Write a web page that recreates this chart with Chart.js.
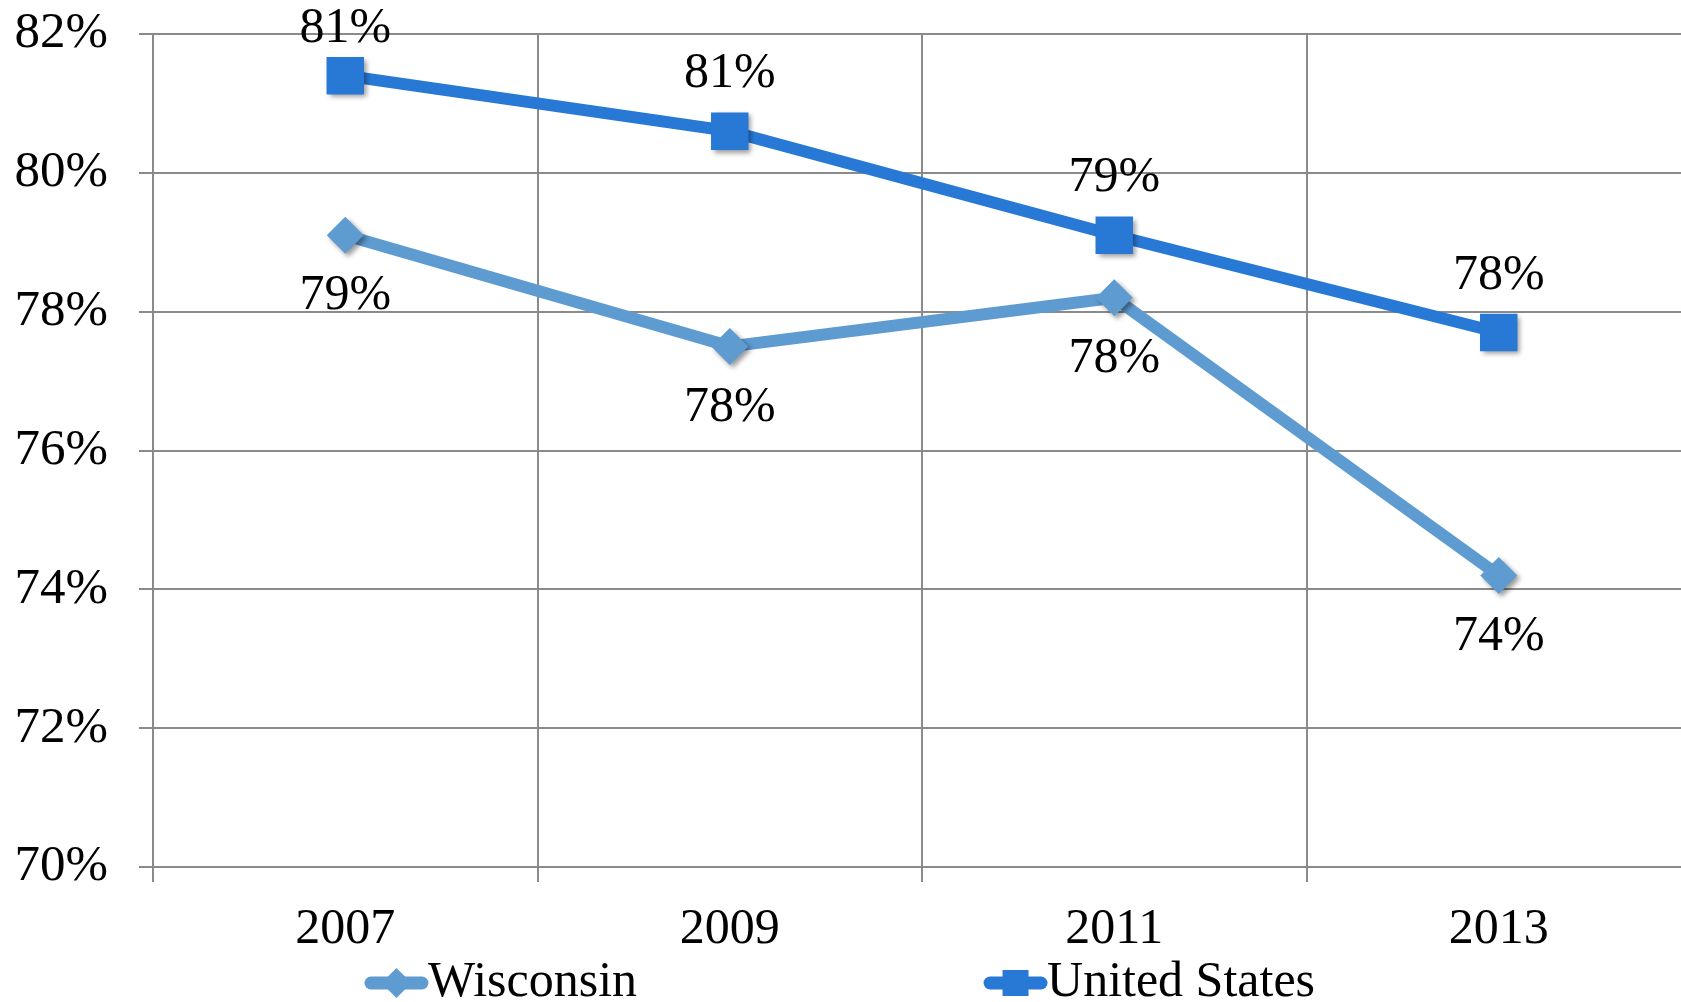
<!DOCTYPE html>
<html>
<head>
<meta charset="utf-8">
<script src="https://cdn.jsdelivr.net/npm/chart.js@4.4.0/dist/chart.umd.min.js"></script>
<style>
  html, body { margin: 0; padding: 0; background: #fff; overflow: hidden; }
  #chart { display: block; }
</style>
</head>
<body>
<canvas id="chart" width="1691" height="1002"></canvas>
<script>
// values (percent)
const years = ['2007', '2009', '2011', '2013'];
const wisconsin = [79.1, 77.5, 78.2, 74.2];
const unitedStates = [81.4, 80.6, 79.1, 77.7];
const seriesNames = ['Wisconsin', 'United States'];

const FONT = '"Liberation Serif", "Times New Roman", serif';
const WI_COLOR = '#5e9bd0';
const US_COLOR = '#2879d5';
const GRID = '#8a8a8a';

// soft drop shadow on the markers only (not on the lines)
const markerShadow = {
    id: 'markerShadow',
    beforeDatasetDraw(chart, args) {
        args.meta.data.forEach(pt => {
            if (pt._shadowed) return;
            const draw = pt.draw.bind(pt);
            pt.draw = (ctx, area) => {
                ctx.save();
                ctx.shadowColor = 'rgba(0, 0, 0, 0.4)';
                ctx.shadowBlur = 5;
                ctx.shadowOffsetX = 3;
                ctx.shadowOffsetY = 3;
                draw(ctx, area);
                ctx.restore();
            };
            pt._shadowed = true;
        });
    }
};

// value labels above (US) / below (WI) each point
const valueLabels = {
    id: 'valueLabels',
    afterDatasetsDraw(chart) {
        const ctx = chart.ctx;
        ctx.save();
        ctx.font = '50px ' + FONT;
        ctx.fillStyle = '#000';
        ctx.textAlign = 'center';
        ctx.textBaseline = 'middle';
        chart.data.datasets.forEach((ds, i) => {
            const meta = chart.getDatasetMeta(i);
            meta.data.forEach((pt, j) => {
                const txt = Math.round(ds.data[j]) + '%';
                let y = ds.labelPos === 'above' ? pt.y - 57 : pt.y + 61;
                y = Math.max(y, chart.chartArea.top - 5);
                ctx.fillText(txt, pt.x, y);
            });
        });
        ctx.restore();
    }
};

// Excel-style legend: short line with the marker, then the name
const bottomLegend = {
    id: 'bottomLegend',
    afterDraw(chart) {
        const ctx = chart.ctx;
        const markW = 63, gap = 347, cy = chart.height - 19, center = 840;
        ctx.save();
        ctx.font = '50px ' + FONT;
        ctx.textBaseline = 'middle';
        ctx.textAlign = 'left';
        const items = chart.data.datasets.map(ds => ({ ds, w: markW + ctx.measureText(ds.label).width }));
        const total = items.reduce((s, it) => s + it.w, 0) + gap * (items.length - 1);
        let x = center - total / 2;
        items.forEach(({ ds, w }) => {
            ctx.strokeStyle = ds.borderColor;
            ctx.fillStyle = ds.borderColor;
            ctx.lineWidth = 13;
            ctx.lineCap = 'round';
            ctx.beginPath();
            ctx.moveTo(x + 6, cy);
            ctx.lineTo(x + markW - 6, cy);
            ctx.stroke();
            const mx = x + markW / 2;
            ctx.beginPath();
            if (ds.pointStyle === 'rect') {
                ctx.rect(mx - 13, cy - 13, 26, 26);
            } else {
                ctx.moveTo(mx, cy - 15);
                ctx.lineTo(mx + 15, cy);
                ctx.lineTo(mx, cy + 15);
                ctx.lineTo(mx - 15, cy);
                ctx.closePath();
            }
            ctx.fill();
            ctx.fillStyle = '#000';
            ctx.fillText(ds.label, x + markW, cy);
            x += w + gap;
        });
        ctx.restore();
    }
};

new Chart(document.getElementById('chart'), {
    type: 'line',
    data: {
        labels: years,
        datasets: [
            {
                label: seriesNames[0],
                data: wisconsin,
                borderColor: WI_COLOR,
                backgroundColor: WI_COLOR,
                borderWidth: 12,
                pointStyle: 'rectRot',
                pointRadius: 18.5,
                pointBorderWidth: 0,
                labelPos: 'below'
            },
            {
                label: seriesNames[1],
                data: unitedStates,
                borderColor: US_COLOR,
                backgroundColor: US_COLOR,
                borderWidth: 12,
                pointStyle: 'rect',
                pointRadius: 26.5,
                pointBorderWidth: 0,
                labelPos: 'above'
            }
        ]
    },
    options: {
        responsive: false,
        animation: false,
        layout: { autoPadding: false, padding: { top: 34, left: 0, right: 0, bottom: 0 } },
        plugins: { legend: { display: false }, tooltip: { enabled: false } },
        scales: {
            x: {
                offset: true,
                grid: { offset: true, color: GRID, lineWidth: 2, tickLength: 15 },
                border: { color: GRID, width: 2 },
                ticks: { font: { family: FONT, size: 50 }, color: '#000', padding: 18, maxRotation: 0 },
                afterFit(s) { s.height = 135; s.paddingLeft = 0; s.paddingRight = 0; }
            },
            y: {
                min: 70,
                max: 82,
                grid: { color: GRID, lineWidth: 2, tickLength: 14 },
                border: { color: GRID, width: 2 },
                ticks: {
                    stepSize: 2,
                    font: { family: FONT, size: 51 },
                    color: '#000',
                    padding: 31,
                    callback: v => v + '%'
                },
                afterFit(s) { s.width = 153; s.paddingTop = 0; s.paddingBottom = 0; }
            }
        }
    },
    plugins: [markerShadow, valueLabels, bottomLegend]
});
</script>
</body>
</html>
